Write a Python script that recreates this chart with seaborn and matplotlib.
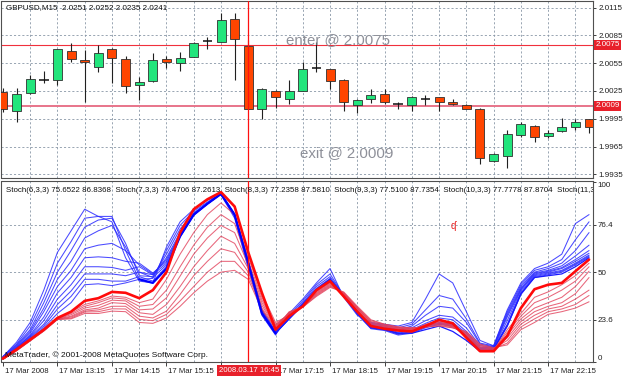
import numpy as np
import matplotlib
matplotlib.use("Agg")
import matplotlib.pyplot as plt
import seaborn as sns
from matplotlib.transforms import ScaledTranslation, blended_transform_factory

sns.set_theme(style="white")
plt.rcParams['font.family'] = ['Liberation Sans', 'DejaVu Sans']

# ---- GBPUSD M15 candles (12:15 .. 23:00, 17 Mar 2008) ----
opens = [2.0024, 2.0003, 2.0023, 2.0037, 2.0037, 2.0068, 2.0059, 2.0051, 2.0070, 2.0060,
         2.0032, 2.0036, 2.0060, 2.0055, 2.0062, 2.0079, 2.0078, 2.0103, 2.0074, 2.0006,
         2.0025, 2.0016, 2.0025, 2.0050, 2.0049, 2.0037, 2.0010, 2.0016, 2.0022, 2.0011,
         2.0010, 2.0016, 2.0018, 2.0013, 2.0010, 2.0005, 1.9949, 1.9955, 1.9977, 1.9987,
         1.9976, 1.9982, 1.9986, 1.9995]
highs = [2.0028, 2.0028, 2.0042, 2.0047, 2.0070, 2.0077, 2.0069, 2.0075, 2.0071, 2.0063,
         2.0040, 2.0066, 2.0063, 2.0067, 2.0078, 2.0083, 2.0109, 2.0109, 2.0080, 2.0028,
         2.0026, 2.0037, 2.0056, 2.0078, 2.0049, 2.0038, 2.0016, 2.0027, 2.0027, 2.0013,
         2.0020, 2.0021, 2.0018, 2.0016, 2.0011, 2.0007, 1.9958, 1.9983, 1.9992, 1.9988,
         1.9983, 1.9996, 1.9995, 1.9995]
lows = [2.0002, 1.9992, 2.0022, 2.0034, 2.0032, 2.0056, 2.0013, 2.0045, 2.0034, 2.0023,
        2.0015, 2.0035, 2.0050, 2.0047, 2.0062, 2.0070, 2.0078, 2.0037, 2.0005, 1.9995,
        2.0007, 2.0011, 2.0025, 2.0046, 2.0027, 2.0003, 2.0001, 2.0012, 2.0011, 2.0006,
        2.0003, 2.0010, 2.0003, 2.0010, 2.0005, 1.9946, 1.9948, 1.9942, 1.9975, 1.9970,
        1.9974, 1.9981, 1.9983, 1.9980]
closes = [2.0005, 2.0022, 2.0038, 2.0037, 2.0070, 2.0060, 2.0056, 2.0066, 2.0061, 2.0030,
          2.0035, 2.0059, 2.0056, 2.0061, 2.0077, 2.0079, 2.0102, 2.0081, 2.0006, 2.0027,
          2.0018, 2.0025, 2.0049, 2.0050, 2.0036, 2.0013, 2.0015, 2.0021, 2.0013, 2.0011,
          2.0019, 2.0016, 2.0013, 2.0011, 2.0006, 1.9953, 1.9957, 1.9979, 1.9989, 1.9975,
          1.9980, 1.9986, 1.9992, 1.9986]

price_ticks = [2.0115, 2.0085, 2.0055, 2.0025, 1.9995, 1.9965, 1.9935]
enter_price = 2.0075
exit_price = 2.0009
cursor_bar = 18

time_ticks = [0, 4, 8, 12, 16, 20, 24, 28, 32, 36, 40]
# the 16:15 label sits under the cursor time box, so it stays blank
time_labels = ["17 Mar 2008", "17 Mar 13:15", "17 Mar 14:15", "17 Mar 15:15", "",
               "17 Mar 17:15", "17 Mar 18:15", "17 Mar 19:15", "17 Mar 20:15", "17 Mar 21:15",
               "17 Mar 22:15"]

# ---- stochastic lines (blue = main, red = signal) ----
blue_thick = [2, 7, 13, 19, 27, 33, 43, 43.5, 42.5, 44,
              46, 44, 52, 70, 82, 88, 93.5, 82, 55, 27,
              16, 24, 32, 40, 46, 37, 27, 19, 18, 16,
              16, 18, 20, 17, 12, 6, 7, 20, 38, 47,
              48, 49, 53, 58]
red_thick = [2, 7, 12.5, 18, 24.5, 28, 34, 35.5, 39, 38.5,
             35.5, 40, 50, 72, 85, 90.5, 94.5, 86.5, 61, 38.5,
             18, 25.5, 31, 40, 45, 36.5, 28, 20, 18.5, 17.5,
             17, 20, 23.5, 21.5, 13.5, 6, 6, 14.5, 30, 40.5,
             43, 44, 50.5, 57]
blue_1 = [3, 11, 22, 40, 61, 73, 85, 81, 78, 58,
          45, 44, 64, 78, 85, 90, 93, 80, 52, 26,
          15, 27, 35, 44, 52, 36, 26, 22, 21, 20,
          22, 35, 49, 44, 28, 12, 9, 29, 44, 52,
          55, 60, 77, 82]
blue_2 = [3, 10, 20, 36, 55, 67, 80, 81, 81, 62,
          46, 46.5, 62, 76, 84, 89, 93.5, 81, 54, 27,
          15.5, 26, 34, 43, 49, 37, 27, 21.5, 20.5, 19,
          21, 29, 37, 35, 24, 10.5, 9, 28, 43, 51,
          53, 57, 68, 78]
blue_3 = [3, 9.5, 18, 33, 50, 62, 75, 79, 80, 66,
          48, 47.5, 60, 74, 83, 88.5, 93.5, 81.5, 55, 28,
          16, 25, 33, 42, 47.5, 37, 27.5, 21, 20, 18,
          20, 26, 31, 30, 22, 10, 8.5, 27, 42, 50,
          52, 55, 62, 72]
blue_4 = [2.5, 9, 17, 30, 46, 56, 69, 73, 76, 64,
          50, 48.5, 58, 72, 82.5, 88, 93.5, 82, 56, 28.5,
          16.5, 25, 32.5, 41, 46.5, 37, 27.5, 20.5, 19.5, 17.5,
          19, 23, 26, 25, 19, 9, 8.5, 26, 41, 49.5,
          51, 53.5, 59, 65]
blue_5 = [2.5, 8.5, 16, 28, 42, 51, 63, 65, 66, 62,
          54, 49, 57, 71, 82, 88, 93.5, 82, 56, 29,
          17, 25, 32, 40.5, 46, 37, 27.5, 20, 19, 16.5,
          18, 21.5, 24.5, 23.5, 17, 8, 8, 25, 40.5, 49,
          50.5, 52.5, 57, 62]
blue_6 = [2, 8, 15, 25, 38.5, 47, 58, 58.5, 58, 56,
          55, 49.5, 56, 70.5, 82, 88, 93.5, 82, 56, 29,
          17, 24.5, 32, 40.5, 46, 37, 27.5, 19.5, 18.5, 16,
          17.5, 20.5, 23, 22, 16, 7.5, 8, 23, 40, 48.5,
          50, 52, 56, 60.5]
blue_7 = [2, 8, 14.5, 23, 35, 43, 53, 53, 52.6, 51,
          53, 48.5, 55, 70, 82, 88, 93.5, 82, 55.5, 28.5,
          16.5, 24.5, 32, 40.5, 46, 37, 27, 19, 18, 15.5,
          17, 20, 22, 21, 15, 7, 7.5, 21, 39, 48,
          49.5, 51, 55, 59.5]
blue_8 = [2, 7.5, 14, 21, 32, 39.5, 49, 49, 49, 48,
          50, 47, 54, 70, 82, 88, 93.5, 82, 55, 28,
          16, 24, 32, 40, 45.5, 37, 27, 19, 18, 15.5,
          16.5, 19.5, 21.5, 20.5, 14.5, 7, 7.5, 20.5, 38, 47.5,
          49, 50.5, 54.5, 59]
blue_9 = [2, 7.5, 13.5, 20, 29.5, 36.5, 46, 46, 45, 45,
          47.5, 45, 53, 69.5, 81.5, 88, 93.5, 81.5, 54.5, 27.5,
          16, 24, 31.5, 40, 45.5, 36.5, 26.5, 18.5, 17.5, 15,
          16, 19, 21, 20, 14, 6.5, 7, 20, 37.5, 47,
          48.5, 50, 54, 58.5]
red_1 = [1.5, 7, 12.5, 18, 24.3, 27.8, 32, 34, 36.7, 36,
         33, 35, 46, 60, 72, 82, 88.5, 82, 58, 38,
         22, 26, 31, 39.5, 44.5, 37, 28.5, 20.5, 19, 18,
         17.5, 21, 23, 20.5, 14, 7, 6.5, 18, 27, 36,
         39, 43, 48, 55]
red_2 = [1.5, 6.8, 12.3, 17.8, 24.1, 27, 31, 33, 35.7, 35,
         31, 32, 40, 53, 65, 75, 82, 77, 56, 36,
         21, 26.5, 31, 39, 44, 37.5, 29, 21, 19.5, 18.5,
         18, 20.5, 22.5, 20, 14.5, 7.5, 6.5, 16.5, 25.5, 33,
         36, 40, 45, 53]
red_3 = [1.5, 6.6, 12.2, 17.6, 24, 26.3, 30, 31.5, 34.4, 34,
         29, 29.5, 35.7, 47.8, 60, 69, 76, 72, 54, 34.5,
         20.5, 27, 31, 38.5, 43.5, 38, 29.5, 21.5, 20, 18.5,
         18, 20.5, 22, 20, 15, 8, 7, 15, 24, 30,
         33, 36, 42, 50.5]
red_4 = [1.5, 6.5, 12, 17.5, 23.9, 25.5, 29, 30, 33, 32.5,
         27.4, 26.5, 32, 42, 53, 62, 70, 66, 52, 33,
         20, 27, 31, 38, 43, 38, 30, 22, 20, 19,
         18.5, 20, 21.5, 19.5, 15.5, 8.5, 7, 13.5, 22.5, 28,
         31, 33, 38, 47]
red_5 = [1.5, 6.4, 12, 17.4, 23.8, 25, 28.3, 29, 31, 31,
         25.5, 24.5, 28.3, 37.6, 48, 56, 63, 61, 50, 31.5,
         19.5, 27.5, 31, 37.5, 42.5, 38.5, 30, 22.5, 20.5, 19,
         18.5, 20, 21, 19.5, 16, 9, 7.5, 12, 21, 26,
         29.5, 31, 35, 40]
red_6 = [1.5, 6.3, 11.8, 17.3, 23.7, 24.4, 27.8, 28, 29.6, 29.5,
         23.7, 23, 26.5, 34, 42, 50, 56, 56, 48, 30,
         19, 27.5, 30.5, 37, 42, 38.5, 30.5, 23, 21, 19.5,
         19, 19.5, 20.5, 19, 16.5, 9.5, 7.5, 10.5, 19.5, 24,
         28, 29.5, 32, 37]
red_7 = [1.5, 6.2, 11.7, 17.2, 23.6, 24, 27, 27, 28.3, 28,
         22, 21.5, 24.5, 31, 38.5, 45, 50, 51, 46, 29,
         18.5, 28, 30.5, 36.5, 41.5, 39, 31, 23.5, 21, 19.5,
         19, 19.5, 20, 19, 17, 10, 8, 9.5, 18, 22,
         26.5, 28, 30, 33.5]
stoch_levels = [76.4, 50, 23.6]
stoch_tick_labels = ["100", "76.4", "50", "23.6", "0"]
stoch_tick_values = [100, 76.4, 50, 23.6, 0]

header = "GBPUSD,M15  2.0251 2.0252 2.0235 2.0241"
stoch_header = ("Stoch(6,3,3) 75.6522 86.8368  Stoch(7,3,3) 76.4706 87.2613  "
                "Stoch(8,3,3) 77.2358 87.5810  Stoch(9,3,3) 77.5100 87.7354  "
                "Stoch(10,3,3) 77.7778 87.8704  Stoch(11,3")

W, H = 625, 377
def fpos(xp, yp):
    return xp / W, 1 - yp / H

fig = plt.figure(figsize=(W / 100, H / 100), dpi=100)
fig.patch.set_facecolor('white')
ax1 = fig.add_axes([1.5 / W, 1 - 178 / H, 591.5 / W, 177 / H])
ax2 = fig.add_axes([1.5 / W, 1 - 362 / H, 591.5 / W, 181 / H])

x = np.arange(len(opens))
grid_kw = dict(color='#8896a6', lw=0.6, ls=(0, (2.5, 2.5)), zorder=0.5)
for ax in (ax1, ax2):
    ax.set_facecolor('white')
    ax.set_xlim(-0.103, 43.29)
    for s in ax.spines.values():
        s.set_color('#505050')
        s.set_linewidth(0.8)
    for gx in range(2, 44, 2):
        ax.axvline(gx, **grid_kw)
    ax.axvline(cursor_bar, color='#ff1010', lw=0.9, zorder=4)

# ---- price panel ----
ax1.set_ylim(1.9931, 2.01222)
for p in price_ticks:
    ax1.axhline(p, **grid_kw)
ax1.axhline(enter_price, color='#f0303c', lw=0.8, zorder=1)
ax1.axhline(exit_price, color='#e8748a', lw=1.4, zorder=1)

o = np.array(opens); c = np.array(closes)
up = c > o
colors = np.where(up, '#22e57c', '#ff4500')
ax1.vlines(x, lows, highs, color='#202020', lw=0.8, zorder=2)
body_lo = np.minimum(o, c)
body_h = np.abs(c - o)
flat = body_h < 1e-6
ax1.bar(x[~flat], body_h[~flat], bottom=body_lo[~flat], width=0.66,
        color=colors[~flat], edgecolor='#303030', linewidth=0.6, zorder=3)
ax1.hlines(o[flat], x[flat] - 0.35, x[flat] + 0.35, color='#111111', lw=1.1, zorder=3)

ax1.yaxis.tick_right()
ax1.set_yticks(price_ticks)
ax1.set_yticklabels([f"{p:.4f}" for p in price_ticks])
ax1.tick_params(axis='y', right=True, length=2.5, width=0.6, pad=1.5, labelsize=5.8,
                colors='#202020')
ax1.set_xticks([])

yb = blended_transform_factory(ax1.transAxes, ax1.transData)
for p in (enter_price, exit_price):
    ax1.text(1.004, p, f"{p:.4f}", transform=yb, ha='left', va='center', fontsize=5.8,
             color='white', clip_on=False, zorder=6,
             bbox=dict(facecolor='#e8202a', edgecolor='none', pad=1.2))

fig.text(*fpos(6, 8), header, fontsize=5.8, ha='left', va='center', color='#111111')
fig.text(*fpos(286, 40.5), f"enter @ {enter_price:.4f}", fontsize=10.8, ha='left',
         va='center', color='#8e9099')
fig.text(*fpos(300, 153), f"exit @ {exit_price:.4f}", fontsize=10.8, ha='left',
         va='center', color='#8e9099')

# ---- stochastic panel ----
ax2.set_ylim(0.17, 100.7)
for lv in stoch_levels:
    ax2.axhline(lv, **grid_kw)

for vals in (blue_1, blue_2, blue_3, blue_4, blue_5, blue_6, blue_7, blue_8, blue_9):
    sns.lineplot(x=x, y=vals, ax=ax2, color='#2a2aff', lw=0.75, alpha=0.85, zorder=2)
for vals in (red_7, red_6, red_5, red_4, red_3, red_2, red_1):
    sns.lineplot(x=x, y=vals, ax=ax2, color='#e2405a', lw=0.75, alpha=0.8, zorder=2.2)
# the heavy blue stroke only stands out around the 14:45-17:15 swing
bt = np.array(blue_thick)
sns.lineplot(x=x[:11], y=bt[:11], ax=ax2, color='#2a2aff', lw=0.75, alpha=0.85, zorder=2)
sns.lineplot(x=x[10:21], y=bt[10:21], ax=ax2, color='#0000ff', lw=1.6, zorder=2.5)
sns.lineplot(x=x[20:], y=bt[20:], ax=ax2, color='#1a1aff', lw=0.9, zorder=2)
sns.lineplot(x=x, y=red_thick, ax=ax2, color='#ff0a0a', lw=1.9, zorder=2.6)
ax2.set_xlabel('')
ax2.set_ylabel('')

ax2.yaxis.tick_right()
ax2.set_yticks(stoch_tick_values)
ax2.set_yticklabels(stoch_tick_labels)
ax2.tick_params(axis='y', right=True, length=2, width=0.6, pad=1.5, labelsize=5.8,
                colors='#202020')
ylabels = ax2.get_yticklabels()
ylabels[0].set_va('top')
ylabels[-1].set_va('bottom')

ax2.set_xticks(time_ticks)
ax2.set_xticklabels(time_labels)
ax2.tick_params(axis='x', bottom=True, length=3, width=0.6, pad=1.5, labelsize=5.6,
                colors='#202020')
shift = ScaledTranslation(2 / 100, 0, fig.dpi_scale_trans)
for lbl in ax2.get_xticklabels():
    lbl.set_horizontalalignment('left')
    lbl.set_transform(lbl.get_transform() + shift)

ax2.text(*fpos(6, 190), stoch_header, transform=fig.transFigure, fontsize=5.65,
         ha='left', va='center', color='#111111', clip_on=True, zorder=6)
fig.text(*fpos(5, 355), "MetaTrader, \u00a9 2001-2008 MetaQuotes Software Corp.",
         fontsize=6.0, ha='left', va='center', color='#111111')
fig.text(*fpos(453, 226), "\u02a0", fontsize=7, ha='center', va='center', color='#e82020')

fig.text(*fpos(249, 370.5), "2008.03.17 16:45", fontsize=5.6, ha='center', va='center',
         color='white', bbox=dict(facecolor='#e8202a', edgecolor='none', pad=1.6))

fig.savefig('out.png', dpi=100)
